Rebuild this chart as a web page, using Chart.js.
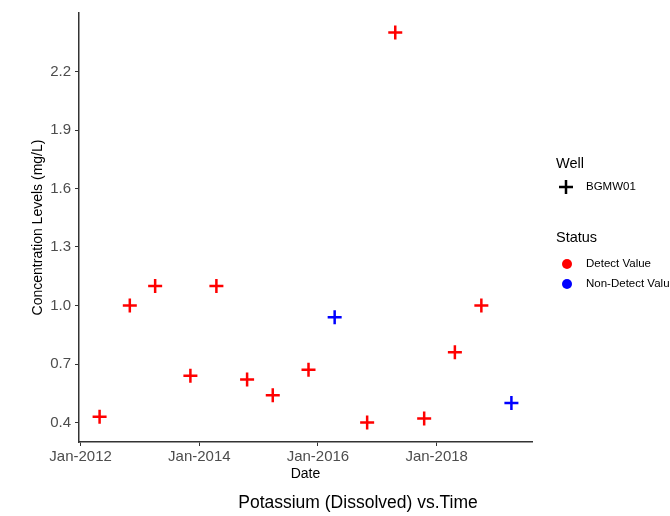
<!DOCTYPE html>
<html>
<head>
<meta charset="utf-8">
<script src="https://cdn.jsdelivr.net/npm/chart.js@4.4.1/dist/chart.umd.min.js"></script>
<style>
  html, body { margin: 0; padding: 0; background: #fff; }
  #wrap { width: 670px; height: 516px; position: relative; }
</style>
</head>
<body>
<div id="wrap"><canvas id="chart" width="670" height="516"></canvas></div>
<script>
// sample dates, values and detect status
const sampleDates = [
  "2012-04-27", "2012-10-30", "2013-04-04", "2013-11-07", "2014-04-16",
  "2014-10-22", "2015-03-29", "2015-11-04", "2016-04-13", "2016-10-30",
  "2017-04-21", "2017-10-16", "2018-04-23", "2018-10-03", "2019-04-06"
];
const concentrations = [
  0.43, 1.0, 1.1, 0.64, 1.1,
  0.62, 0.54, 0.67, 0.94, 0.40,
  2.40, 0.42, 0.76, 1.0, 0.50
];
const detectStatus = [
  "Detect Value", "Detect Value", "Detect Value", "Detect Value", "Detect Value",
  "Detect Value", "Detect Value", "Detect Value", "Non-Detect Value", "Detect Value",
  "Detect Value", "Detect Value", "Detect Value", "Detect Value", "Non-Detect Value"
];

const statusLabels = ["Detect Value", "Non-Detect Value"];
const statusColors = ["#FF0000", "#0000FF"];
const wellNames = ["BGMW01"];

const yTicks = [0.4, 0.7, 1.0, 1.3, 1.6, 1.9, 2.2];
const xTickDates = ["2012-01-01", "2014-01-01", "2016-01-01", "2018-01-01"];
const xTickLabels = ["Jan-2012", "Jan-2014", "Jan-2016", "Jan-2018"];

const chartTitle = "Potassium (Dissolved) vs.Time";
const FONT = "'Liberation Sans', Arial, sans-serif";

// datasets per status
const datasets = statusLabels.map((status, s) => ({
  label: status,
  data: sampleDates
    .map((d, i) => ({ x: Date.parse(d), y: concentrations[i], st: detectStatus[i] }))
    .filter((p) => p.st === status),
  pointStyle: "cross",
  pointRadius: 7,
  pointHoverRadius: 7,
  borderWidth: 2.5,
  borderColor: statusColors[s],
  backgroundColor: statusColors[s],
}));

// ggplot style 5% expansion on x
const xs = sampleDates.map((d) => Date.parse(d));
const xMin = Math.min(...xs), xMax = Math.max(...xs);
const xPad = (xMax - xMin) * 0.05;

// title + legend drawn on the canvas
const extrasPlugin = {
  id: "extras",
  afterDraw(chart) {
    const ctx = chart.ctx;
    ctx.save();
    ctx.fillStyle = "#000";
    ctx.textBaseline = "middle";

    ctx.textAlign = "center";
    ctx.font = "17.5px " + FONT;
    ctx.fillText(chartTitle, 358, 503);

    ctx.textAlign = "left";
    ctx.font = "14.5px " + FONT;
    ctx.fillText("Well", 556, 164);

    wellNames.forEach((w, i) => {
      const y = 187 + i * 20;
      ctx.strokeStyle = "#000";
      ctx.lineWidth = 2.5;
      ctx.beginPath();
      ctx.moveTo(559, y); ctx.lineTo(573, y);
      ctx.moveTo(566, y - 7); ctx.lineTo(566, y + 7);
      ctx.stroke();
      ctx.font = "11.5px " + FONT;
      ctx.fillText(w, 586, y);
    });

    ctx.font = "14.5px " + FONT;
    ctx.fillText("Status", 556, 238);

    statusLabels.forEach((lab, i) => {
      const y = 264 + i * 20;
      ctx.fillStyle = statusColors[i];
      ctx.beginPath();
      ctx.arc(567, y, 5, 0, Math.PI * 2);
      ctx.fill();
      ctx.fillStyle = "#000";
      ctx.font = "11.5px " + FONT;
      ctx.fillText(lab, 586, y);
    });
    ctx.restore();
  },
};

new Chart(document.getElementById("chart"), {
  type: "scatter",
  data: { datasets },
  plugins: [extrasPlugin],
  options: {
    responsive: false,
    animation: false,
    layout: { padding: { left: 0, right: 138, top: 12, bottom: 24 } },
    plugins: {
      legend: { display: false },
      tooltip: { enabled: false },
    },
    scales: {
      x: {
        type: "linear",
        min: xMin - xPad,
        max: xMax + xPad,
        afterFit: (scale) => { scale.height = 50; },
        afterBuildTicks: (scale) => {
          scale.ticks = xTickDates.map((d) => ({ value: Date.parse(d) }));
        },
        ticks: {
          autoSkip: false,
          maxRotation: 0,
          padding: 2,
          color: "#4D4D4D",
          font: { family: FONT, size: 15 },
          callback: (v) => xTickLabels[xTickDates.findIndex((d) => Date.parse(d) === v)],
        },
        grid: { drawOnChartArea: false, drawTicks: true, tickLength: 4, color: "#333" },
        border: { display: true, color: "#333", width: 1.5 },
        title: {
          display: true,
          text: "Date",
          color: "#000",
          font: { family: FONT, size: 14 },
          padding: { top: 0, bottom: 9 },
        },
      },
      y: {
        type: "linear",
        min: 0.3,
        max: 2.5,
        afterFit: (scale) => { scale.width = 79; },
        afterBuildTicks: (scale) => {
          scale.ticks = yTicks.map((v) => ({ value: v }));
        },
        ticks: {
          padding: 4,
          color: "#4D4D4D",
          font: { family: FONT, size: 15 },
          callback: (v) => v.toFixed(1),
        },
        grid: { drawOnChartArea: false, drawTicks: true, tickLength: 4, color: "#333" },
        border: { display: true, color: "#333", width: 1.5 },
        title: {
          display: true,
          text: "Concentration Levels (mg/L)",
          color: "#000",
          font: { family: FONT, size: 14 },
          padding: { top: 30, bottom: 0 },
        },
      },
    },
  },
});
</script>
</body>
</html>
